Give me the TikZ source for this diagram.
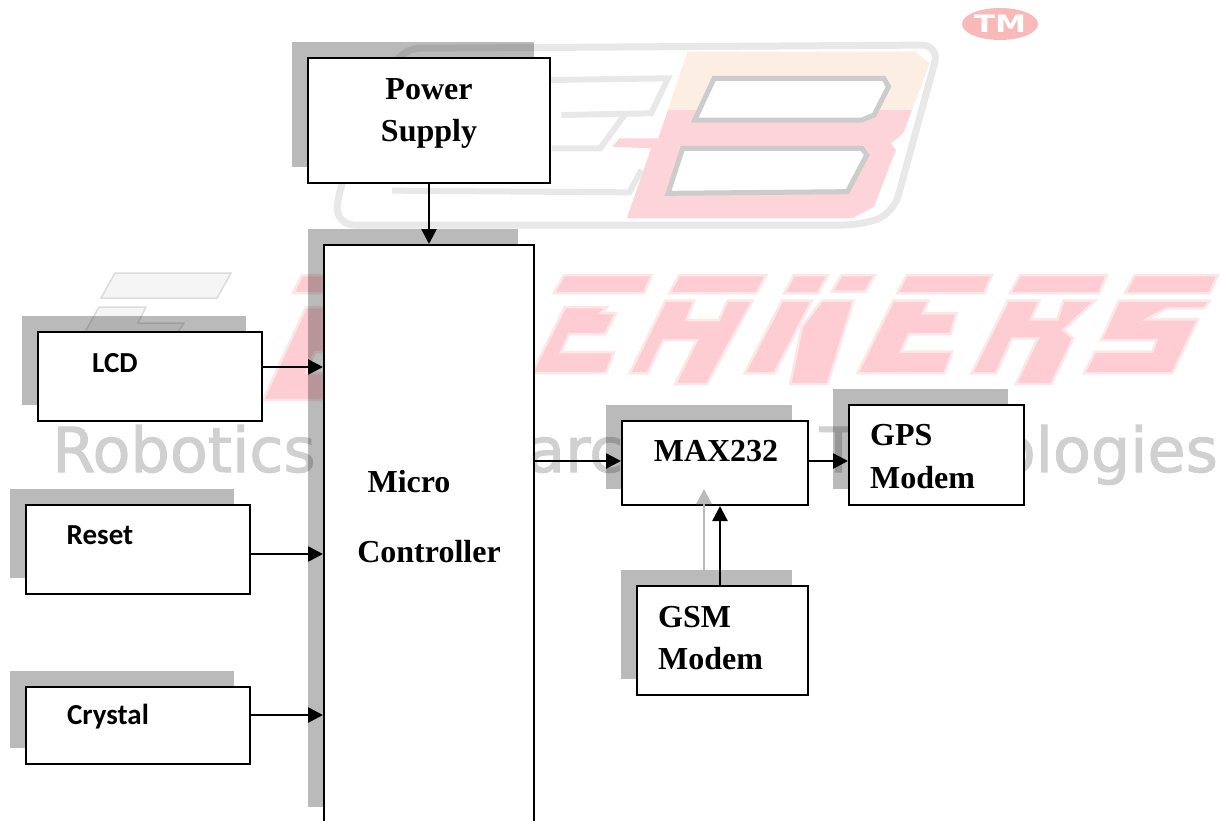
\documentclass[tikz,border=0pt]{standalone}
\usepackage{fontspec}
\setmainfont{Liberation Serif}
\newfontfamily\calibrifont{Carlito}
\newfontfamily\markfont{DejaVu Sans}
\newfontfamily\wordfont[FakeBold=1.6]{DejaVu Sans}
\usetikzlibrary{arrows.meta,shadows,shapes.geometric}
\definecolor{letterpink}{RGB}{253,205,211}
\definecolor{letteredge}{RGB}{253,230,232}
\definecolor{markgray}{RGB}{208,208,208}
\definecolor{logogray}{RGB}{232,232,232}
\definecolor{creampink}{RGB}{253,238,228}
\definecolor{tmpink}{RGB}{249,185,185}
\tikzset{
  blockbox/.style={draw,fill=white,line width=2pt,inner sep=0pt,
    general shadow={fill=black,opacity=.27,shadow xshift=-16pt,shadow yshift=16pt}},
  serifcap/.style={font=\fontsize{32}{36}\selectfont\bfseries,inner sep=0pt},
  sanscap/.style={font=\fontsize{29}{32}\calibrifont\bfseries,inner sep=0pt},
  flowarrow/.style={line width=2.6pt,-{Triangle[length=15pt,width=15pt]}},
  letterfill/.style={fill=letterpink,draw=letteredge,line width=2.5pt},
  outlinefill/.style={fill=black!4,draw=black!14,line width=1.5pt},
  wordstyle/.style={anchor=base west,inner sep=0pt,text=markgray,font=\fontsize{62}{62}\wordfont},
}
\begin{document}
\begin{tikzpicture}[x=1pt,y=-1pt]
    \useasboundingbox (0,0) rectangle (1221,820);

    % Draw the logo behind the blocks
    \begin{scope}[shift={(290,0)},xscale=1/2.063,yscale=1/3]
        \draw[logogray,line width=7pt,rounded corners=18pt] (230,145) -- (1340,135) -- (1245,640) -- (1180,675) -- (95,675) -- (100,570) -- cycle;
        \begin{scope}
            \clip (600,100) rectangle (1400,330);
            \fill[creampink] (820,155) -- (1290,155) -- (1320,190) -- (1265,400) -- (1240,430) -- (1250,450) -- (1205,620) -- (1160,655) -- (695,655) -- (745,445) -- (665,440) -- (680,415) -- (760,415) -- cycle;
        \end{scope}
        \begin{scope}
            \clip (600,330) rectangle (1400,700);
            \fill[letterpink!85!white] (820,155) -- (1290,155) -- (1320,190) -- (1265,400) -- (1240,430) -- (1250,450) -- (1205,620) -- (1160,655) -- (695,655) -- (745,445) -- (665,440) -- (680,415) -- (760,415) -- cycle;
        \end{scope}
        \filldraw[fill=white,draw=black!20,line width=5pt] (875,235) -- (1225,235) -- (1235,260) -- (1205,345) -- (1180,360) -- (835,360) -- cycle;
        \filldraw[fill=white,draw=black!20,line width=5pt] (810,445) -- (1180,445) -- (1190,465) -- (1150,575) -- (780,580) -- cycle;
        \draw[logogray,line width=6pt] (530,240) -- (780,235) -- (745,340) -- (560,345);
        \draw[logogray,line width=6pt] (540,445) -- (640,445) -- (690,345);
        \draw[logogray,line width=6pt] (210,572) -- (700,577) -- (725,510);
    \end{scope}
    \node[ellipse,fill=tmpink,minimum width=76pt,minimum height=32pt,inner sep=0pt,text=white,font=\fontsize{24}{24}\markfont\bfseries] (trademark) at (1000,24) {\scalebox{1.3}[1]{TM}};

    % Draw the row of large letters
    \filldraw[outlinefill] (101,298) -- (115,273) -- (231,273) -- (217,298) -- cycle;
    \filldraw[outlinefill] (85,332) -- (99,307) -- (146,307) -- (138,323) -- (184,323) -- (178,332) -- cycle;
    \filldraw[letterfill] (293,293) -- (302,275) -- (324,275) -- (324,293) -- cycle;
    \filldraw[letterfill] (263,400) -- (306,307) -- (324,307) -- (324,352) -- (315,352) -- (306,373) -- (324,373) -- (324,400) -- cycle;
    \filldraw[letterfill] (554,293) -- (564,275) -- (652,275) -- (644,293) -- cycle;
    \filldraw[letterfill] (532,373) -- (565,307) -- (607,307) -- (601,313) -- (616,313) -- (605,334) -- (569,334) -- (561,352) -- (614,352) -- (606,373) -- cycle;
    \begin{scope}[shift={(600,230)},xscale=1/2.525,yscale=1/3]
        % H
        \filldraw[letterfill] (175,190) -- (200,135) -- (420,135) -- (395,190) -- cycle;
        \filldraw[letterfill] (75,430) -- (165,212) -- (238,212) -- (218,270) -- (300,270) -- (322,212) -- (385,212) -- (270,462) -- (190,462) -- (245,330) -- (160,330) -- (120,430) -- cycle;
        % A
        \filldraw[letterfill] (465,190) -- (490,135) -- (575,135) -- (550,190) -- cycle;
        \filldraw[letterfill] (585,185) -- (610,135) -- (695,135) -- (670,185) -- cycle;
        \filldraw[letterfill] (365,430) -- (460,212) -- (535,212) -- (440,430) -- cycle;
        \filldraw[letterfill] (480,462) -- (510,290) -- (560,212) -- (640,212) -- (575,462) -- cycle;
        % E
        \filldraw[letterfill] (750,190) -- (775,135) -- (990,135) -- (970,190) -- cycle;
        \filldraw[letterfill] (650,430) -- (740,212) -- (830,212) -- (815,250) -- (900,250) -- (885,312) -- (780,312) -- (760,365) -- (890,365) -- (870,430) -- cycle;
        % K
        \filldraw[letterfill] (1035,190) -- (1060,135) -- (1280,135) -- (1260,190) -- cycle;
        \filldraw[letterfill] (938,430) -- (1030,212) -- (1110,212) -- (1088,268) -- (1155,268) -- (1170,212) -- (1250,212) -- (1170,300) -- (1195,325) -- (1140,462) -- (1050,462) -- (1105,325) -- (1040,325) -- (1000,430) -- cycle;
        % S
        \filldraw[letterfill] (1325,190) -- (1350,135) -- (1560,135) -- (1540,190) -- cycle;
        \filldraw[letterfill] (1222,430) -- (1250,365) -- (1395,365) -- (1405,330) -- (1265,330) -- (1310,212) -- (1540,212) -- (1525,235) -- (1430,235) -- (1380,268) -- (1510,268) -- (1445,430) -- cycle;
    \end{scope}
    \node[wordstyle] (roboticsword) at (52,472) {Robotics};
    \node[wordstyle] (researchword) at (378,472) {Research};
    \node[wordstyle,anchor=base east] (technologiesword) at (1218,472) {Technologies};

    % Draw the blocks
    \node[blockbox,minimum width=242pt,minimum height=125pt] (power) at (429,120.5) {};
    \node[blockbox,minimum width=210pt,minimum height=578pt] (micro) at (429,534) {};
    \node[blockbox,minimum width=224pt,minimum height=89pt] (lcd) at (150,376.5) {};
    \node[blockbox,minimum width=224pt,minimum height=89pt] (reset) at (138,549.5) {};
    \node[blockbox,minimum width=224pt,minimum height=77pt] (crystal) at (138,725.5) {};
    \node[blockbox,minimum width=186pt,minimum height=84pt] (max) at (715,463) {};
    \node[blockbox,minimum width=175pt,minimum height=100pt] (gps) at (936.5,455) {};
    \node[blockbox,minimum width=171pt,minimum height=109pt] (gsm) at (722.5,640.5) {};

    % Labels of the blocks
    \node[serifcap] (powertext) at (429,89) {Power};
    \node[serifcap] (supplytext) at (429,134) {Supply};
    \node[serifcap] (microtext) at (409,482) {Micro};
    \node[serifcap] (controllertext) at (429,552) {Controller};
    \node[serifcap] (maxtext) at (716,451) {MAX232};
    \node[serifcap,anchor=west] (gpstext) at (870,435) {GPS};
    \node[serifcap,anchor=west] (gpsmodemtext) at (870,478) {Modem};
    \node[serifcap,anchor=west] (gsmtext) at (658,617) {GSM};
    \node[serifcap,anchor=west] (gsmmodemtext) at (658,659) {Modem};
    \node[sanscap] (lcdtext) at (115,363) {LCD};
    \node[sanscap] (resettext) at (100,535) {Reset};
    \node[sanscap] (crystaltext) at (108,717) {Crystal};

    % Connect the blocks
    \draw[flowarrow] (power.south) -- (micro.north);
    \draw[flowarrow] ([yshift=9.5pt]lcd.east) -- ([yshift=9.5pt]lcd.east -| micro.west);
    \draw[flowarrow] ([yshift=-4.5pt]reset.east) -- ([yshift=-4.5pt]reset.east -| micro.west);
    \draw[flowarrow] ([yshift=10.5pt]crystal.east) -- ([yshift=10.5pt]crystal.east -| micro.west);
    \draw[flowarrow] ([yshift=2pt]max.west -| micro.east) -- ([yshift=2pt]max.west);
    \draw[flowarrow] ([yshift=2pt]max.east) -- ([yshift=2pt]max.east -| gps.west);
    \draw[flowarrow] ([xshift=-2.5pt]gsm.north) -- ([xshift=-2.5pt]gsm.north |- max.south);

    % Shadow of the last arrow
    \coordinate (gsmfoot) at (704,570);
    \coordinate (gsmhead) at (704,489);
    \draw[flowarrow,black!27] (gsmfoot) -- (gsmhead);
\end{tikzpicture}
\end{document}
